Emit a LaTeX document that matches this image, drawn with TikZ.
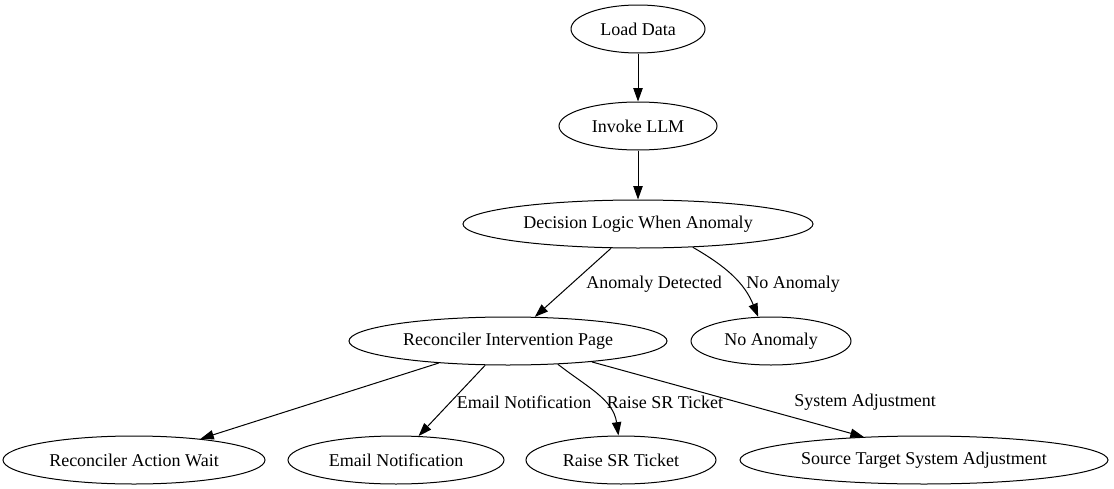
\documentclass[tikz,border=0pt]{standalone}
\usepackage{fontspec}
\setmainfont{Liberation Serif}
\usetikzlibrary{shapes.geometric,arrows.meta}
\begin{document}
\begin{tikzpicture}[x=0.75pt,y=-0.75pt,
  every node/.style={font=\fontsize{13.5pt}{16pt}\selectfont},
  st/.style={ellipse,draw,line width=0.75pt,inner sep=0pt,minimum height=36pt},
  lbl/.style={inner sep=0pt},
  edge/.style={-{Triangle[length=10pt,width=7pt]},line width=0.75pt}]
\useasboundingbox (0,0) rectangle (1114,489);
\node[st,minimum width=100.5pt] (load) at (638,29) {Load Data};
\node[st,minimum width=118.5pt] (invoke) at (638,126) {Invoke LLM};
\node[st,minimum width=262.5pt] (decision) at (638,224) {Decision Logic When Anomaly};
\node[st,minimum width=238.5pt] (rip) at (508,341) {Reconciler Intervention Page};
\node[st,minimum width=120pt] (noanom) at (771,341) {No Anomaly};
\node[st,minimum width=196.5pt] (wait) at (134,460) {Reconciler Action Wait};
\node[st,minimum width=162pt] (email) at (396,460) {Email Notification};
\node[st,minimum width=142.5pt] (raise) at (621,460) {Raise SR Ticket};
\node[st,minimum width=276pt] (source) at (924,460) {Source Target System Adjustment};

\draw[edge] (load) -- (invoke);
\draw[edge] (invoke) -- (decision);
\draw[edge] (decision) -- (rip);
\draw[edge] (decision.-23) to[out=-30,in=112] (noanom.118);
\draw[edge] (rip) -- (wait);
\draw[edge] (rip) -- (email);
\draw[edge] (rip.-25) to[out=-38,in=98] (raise.96);
\draw[edge] (rip.-14) -- (source.159);

\node[lbl] (l1) at (654,284) {Anomaly Detected};
\node[lbl] (l2) at (793,284) {No Anomaly};
\node[lbl] (l3) at (524,402) {Email Notification};
\node[lbl] (l4) at (665,402) {Raise SR Ticket};
\node[lbl] (l5) at (865,402) {System Adjustment};
\end{tikzpicture}
\end{document}
